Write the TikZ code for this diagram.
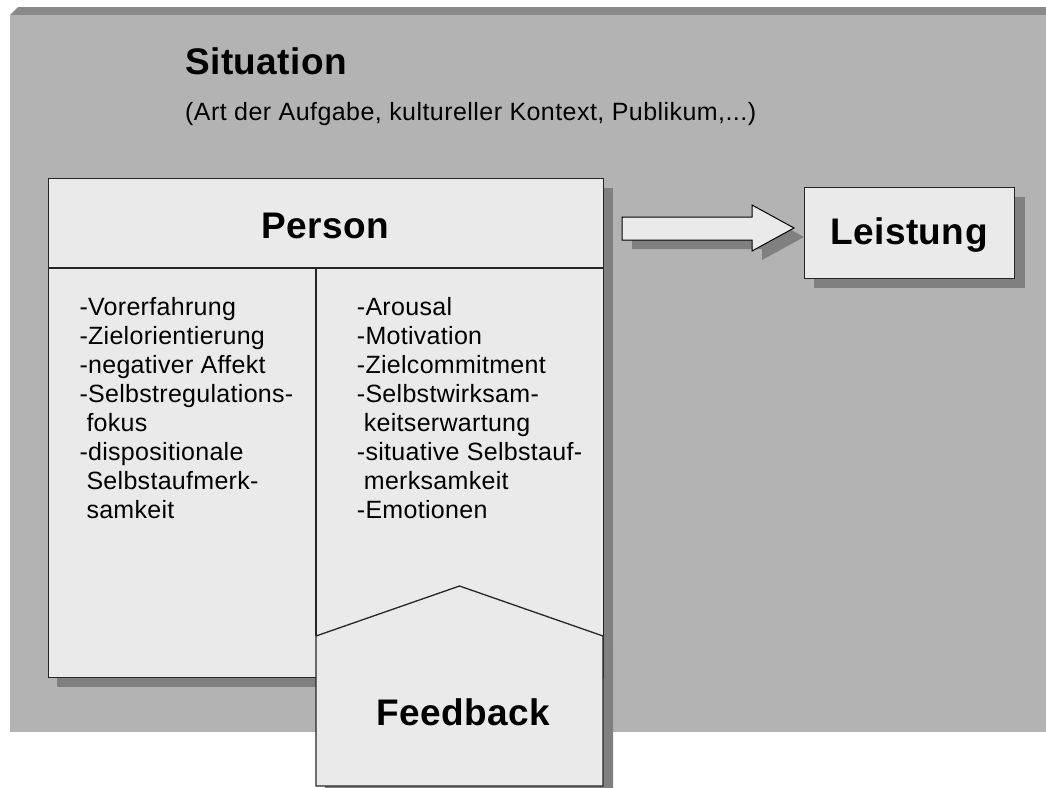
\documentclass[tikz,border=0pt]{standalone}
\usepackage{fontspec}
\setmainfont[LetterSpace=1.2]{Liberation Sans}
\newfontfamily\widefont[LetterSpace=1.8]{Liberation Sans}
\definecolor{bggray}{HTML}{B3B3B3}
\definecolor{bandgray}{HTML}{8A8A8A}
\definecolor{shadowgray}{HTML}{808080}
\definecolor{boxfill}{HTML}{EAEAEA}
\begin{document}
\begin{tikzpicture}[x=1pt,y=-1pt,
  panel/.style={fill=boxfill,draw=black!85,line width=1.3pt},
  shade/.style={fill=shadowgray,draw=none},
  title/.style={font=\fontsize{37}{44}\selectfont\bfseries,inner sep=0pt,anchor=base},
  sub/.style={font=\widefont\fontsize{25}{29}\selectfont,inner sep=0pt,anchor=base west},
  item/.style={font=\fontsize{25}{29}\selectfont,inner sep=0pt,anchor=base west},
]
\useasboundingbox (0,0) rectangle (1046,787);
\fill[white] (0,0) rectangle (1046,787);

% situation panel with its bevelled top band
\fill[bandgray] (10,15) -- (18,7) -- (1046,7) -- (1046,15) -- cycle;
\fill[bggray] (10,15) rectangle (1046,732);

\node[title,anchor=base west] (situation) at (185,74) {Situation};
\node[sub] (context) at (185,120) {(Art der Aufgabe, kultureller Kontext, Publikum,...)};

% drop shadows
\fill[shade] (57,188) rectangle (613,687);
\fill[shade] (325,646) -- (468.5,596) -- (613,646) -- (613,796) -- (325,796) -- cycle;
\fill[shade] (814,197) rectangle (1025,288);
\fill[shade] (632,226) -- (762,226) -- (762,214) -- (804,237) -- (762,260) -- (762,249) -- (632,249) -- cycle;

% person box with header and two columns
\node[panel,anchor=north west,minimum width=555pt,minimum height=499pt,inner sep=0pt] (person) at (48,178) {};
\draw[black!85,line width=1.3pt] (48,268) -- (603,268);
\draw[black!85,line width=1.3pt] (316,268) -- (316,636);
\node[title] (personlabel) at (325.5,238.3) {Person};

% left column
\foreach \t [count=\i] in {-Vorerfahrung,-Zielorientierung,-negativer Affekt,-Selbstregulations-,\hspace{7pt}fokus,-dispositionale,\hspace{7pt}Selbstaufmerk-,\hspace{7pt}samkeit}
  \node[item] (left\i) at (79.3,315.7+29*\i-29) {\t};

% right column
\foreach \t [count=\i] in {-Arousal,-Motivation,-Zielcommitment,-Selbstwirksam-,\hspace{7pt}keitserwartung,-situative Selbstauf-,\hspace{7pt}merksamkeit,-Emotionen}
  \node[item] (right\i) at (356.7,315.7+29*\i-29) {\t};

% feedback block overlapping the person box
\draw[panel] (316,636) -- (459.5,586) -- (603,636) -- (603,786) -- (316,786) -- cycle;
\node[title] (feedback) at (463,725.7) {Feedback};

% block arrow towards performance
\draw[fill=boxfill,draw=black,line width=1pt] (622,217) -- (752,217) -- (752,205) -- (794,228) -- (752,251) -- (752,240) -- (622,240) -- cycle;

% performance box
\node[panel,anchor=north west,minimum width=210pt,minimum height=91pt,inner sep=0pt] (leistung) at (804,187) {};
\node[title] (leistunglabel) at (909,244.3) {Leistung};
\end{tikzpicture}
\end{document}
